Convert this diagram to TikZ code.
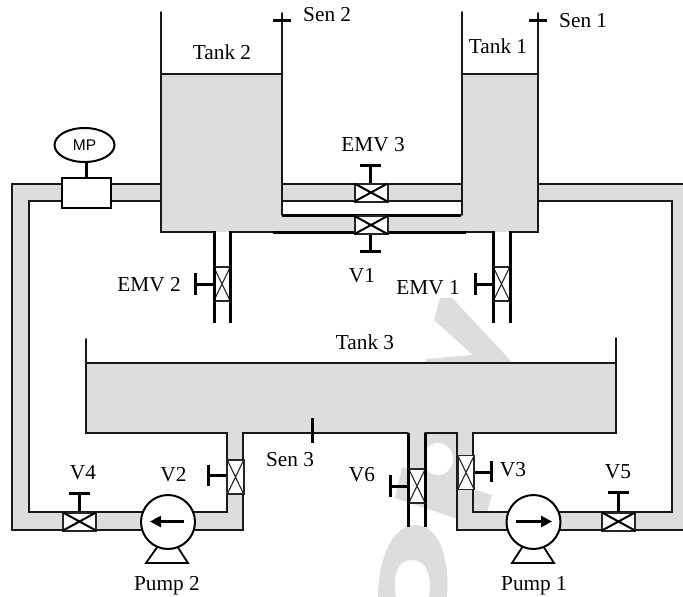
\documentclass[tikz,border=0pt]{standalone}
\usepackage{fontspec}
\setmainfont{Liberation Serif}
\newfontfamily\mpfont{Liberation Sans}
\usetikzlibrary{arrows.meta,shapes.geometric}
\definecolor{water}{RGB}{221,221,221}
\tikzset{
  wall/.style={line width=1.7pt,line cap=round,line join=miter,draw=black!90},
  heavy/.style={line width=3pt,draw=black},
  stem/.style={line width=3pt,draw=black},
  lbl/.style={inner sep=0pt,font=\fontsize{21.3}{24}\selectfont},
  boxv/.style={fill=white,draw=black!85,line width=1.8pt},
  crossv/.style={draw=black!85,line width=1.1pt},
  boxh/.style={fill=white,draw=black!85,line width=2pt},
  crossh/.style={draw=black,line width=2pt},
  pumpc/.style={circle,fill=white,draw=black,line width=2pt,minimum size=54pt,inner sep=0pt},
  pumpbase/.style={fill=white,draw=black,line width=1.8pt,line join=miter},
  flow/.style={line width=3pt,-{Triangle[length=11pt,width=11pt]}},
  vvalve/.pic={
    \path[boxv] (-8.2,-17) rectangle (8.2,17);
    \draw[crossv] (-8.2,-17) -- (8.2,17) (8.2,-17) -- (-8.2,17);
  },
  hvalve/.pic={
    \path[boxh] (-16.5,-9) rectangle (16.5,9);
    \draw[crossh] (-16.5,-9) -- (16.5,9) (16.5,-9) -- (-16.5,9);
  }
}
\begin{document}
\begin{tikzpicture}[x=1pt,y=-1pt]
\useasboundingbox (0,0) rectangle (683,597);
% faint background marks
\fill[water] (440,298) -- (452,298) -- (513,363) -- (426,363) -- (426,359) -- (473,355) -- (434,320) -- cycle;
\fill[water] (408,433) -- (408,469) -- (402,467) -- (395,498) -- (455,518) -- (473,518) -- (473,512) -- (487,512) -- (492,495) -- (473,489) -- (473,433) -- cycle;
\fill[white] (438,459) ellipse [x radius=15, y radius=16];
\fill[water,even odd rule] (378,597) .. controls (378,560) and (392,525) .. (415,525) .. controls (440,525) and (450,560) .. (447,597) -- cycle
  (396,597) .. controls (392,575) and (398,560) .. (412,560) .. controls (428,560) and (432,578) .. (429,597) -- cycle;
% liquid
\fill[water] (161,74) rectangle (282,232);
\fill[water] (462,74) rectangle (538,232);
\fill[water] (86,363) rectangle (616,433);
\fill[water] (282,184) rectangle (462,201);
\fill[water] (282,215) rectangle (462,232);
\fill[water] (408,433) rectangle (425,469);
\fill[water] (161,184) -- (12,184) -- (12,530) -- (243,530) -- (243,433) -- (227,433) -- (227,512) -- (29,512) -- (29,201) -- (161,201) -- cycle;
\fill[water] (538,184) -- (683,184) -- (683,530) -- (457,530) -- (457,433) -- (473,433) -- (473,512) -- (672,512) -- (672,201) -- (538,201) -- cycle;
% tanks
\draw[wall] (161,12) -- (161,232) -- (214,232);
\draw[wall] (230,232) -- (282,232);
\draw[wall] (282,13) -- (282,215);
\draw[wall] (161,74) -- (282,74);
\draw[wall] (462,12) -- (462,215);
\draw[wall] (538,13) -- (538,232) -- (510,232);
\draw[wall] (493,232) -- (462,232);
\draw[wall] (462,74) -- (538,74);
\draw[wall] (86,339) -- (86,433) -- (227,433) -- (227,512) -- (29,512) -- (29,201) -- (161,201);
\draw[wall] (616,338) -- (616,433) -- (473,433) -- (473,512) -- (672,512) -- (672,201) -- (538,201);
\draw[wall] (86,363) -- (616,363);
\draw[wall] (161,184) -- (12,184) -- (12,530) -- (243,530) -- (243,433) -- (312,433) (312,433) -- (408,433);
\draw[wall] (425,433) -- (457,433) -- (457,530) -- (683,530);
\draw[wall] (538,184) -- (683,184);
\draw[wall] (282,184) -- (462,184) (282,201) -- (462,201);
\draw[heavy] (282,215) -- (461,215);
\draw[heavy] (273,232) -- (466,232);
% vertical pipes
\draw[heavy] (214,231) -- (214,323) (230,231) -- (230,323);
\draw[heavy] (493,231) -- (493,323) (510,231) -- (510,323);
\draw[heavy] (408,433) -- (408,527) (425,433) -- (425,527);
% sensors
\draw[stem] (273,20) -- (291,20);
\draw[stem] (529,20) -- (547,20);
\draw[stem] (312,418) -- (312,443);
% horizontal valves
\draw[stem] (370.5,184) -- (370.5,165) (360,165) -- (381,165);
\draw[stem] (370.5,233) -- (370.5,251) (360,251) -- (381,251);
\pic at (371,192.5) {hvalve};
\pic at (371,225) {hvalve};
\draw[stem] (79.5,512) -- (79.5,493) (69,493) -- (90,493);
\pic at (79.5,521.5) {hvalve};
\draw[stem] (618.5,512) -- (618.5,492) (608,492) -- (629,492);
\pic at (618.5,521.5) {hvalve};
% vertical valves
\draw[stem] (214,284) -- (195,284) (195,273) -- (195,295);
\pic at (222,284) {vvalve};
\draw[heavy] (214,267) -- (214,301) (230,267) -- (230,301);
\draw[stem] (493,284) -- (475,284) (475,273) -- (475,295);
\pic at (501.5,284) {vvalve};
\draw[heavy] (493,267) -- (493,301) (510,267) -- (510,301);
\draw[stem] (408,486) -- (390,486) (390,475) -- (390,497);
\pic at (417,486) {vvalve};
\draw[heavy] (408,469) -- (408,503) (425,469) -- (425,503);
\draw[stem] (227,475) -- (208,475) (208,465) -- (208,486);
\pic at (235.5,477) {vvalve};
\draw[stem] (474,472) -- (491,472) (491,461) -- (491,482);
\pic at (466,472.5) {vvalve};
% pumps
\draw[pumpbase] (158,546) -- (146,563) -- (188,563) -- (177,546) -- cycle;
\node[pumpc] (pump2) at (168,522) {};
\draw[flow] (184,521.5) -- (150,521.5);
\draw[pumpbase] (523,546) -- (512,563) -- (554,563) -- (543,546) -- cycle;
\node[pumpc] (pump1) at (533.5,522) {};
\draw[flow] (516,521.5) -- (552,521.5);
% pressure meter
\node[fill=white,draw=black,line width=2pt,minimum width=49pt,minimum height=30pt,inner sep=0pt] (mpbox) at (86.5,193) {};
\node[ellipse,fill=white,draw=black,line width=2pt,minimum width=60pt,minimum height=34pt,inner sep=0pt,font=\mpfont\fontsize{15.5}{18}\selectfont] (mp) at (84.5,145) {MP};
\draw[line width=3pt] (mp.south -| mpbox.north) -- (mpbox.north);
% labels
\node[lbl] (t2) at (222,52.5) {Tank 2};
\node[lbl] (t1) at (498,46) {Tank 1};
\node[lbl] (t3) at (365,342) {Tank 3};
\node[lbl,anchor=west] (s2) at (303,15) {Sen 2};
\node[lbl,anchor=west] (s1) at (559,21) {Sen 1};
\node[lbl] (s3) at (290,460) {Sen 3};
\node[lbl] (e3) at (373,145) {EMV 3};
\node[lbl] (e2) at (149,285) {EMV 2};
\node[lbl] (e1) at (428,288) {EMV 1};
\node[lbl] (v1) at (362,276) {V1};
\node[lbl] (v2) at (173.5,475) {V2};
\node[lbl] (v3) at (513,470) {V3};
\node[lbl] (v4) at (83,473) {V4};
\node[lbl] (v5) at (618,472) {V5};
\node[lbl] (v6) at (362,475) {V6};
\node[lbl] (p2) at (167,585.5) {Pump 2};
\node[lbl] (p1) at (534,585.5) {Pump 1};
\end{tikzpicture}
\end{document}
